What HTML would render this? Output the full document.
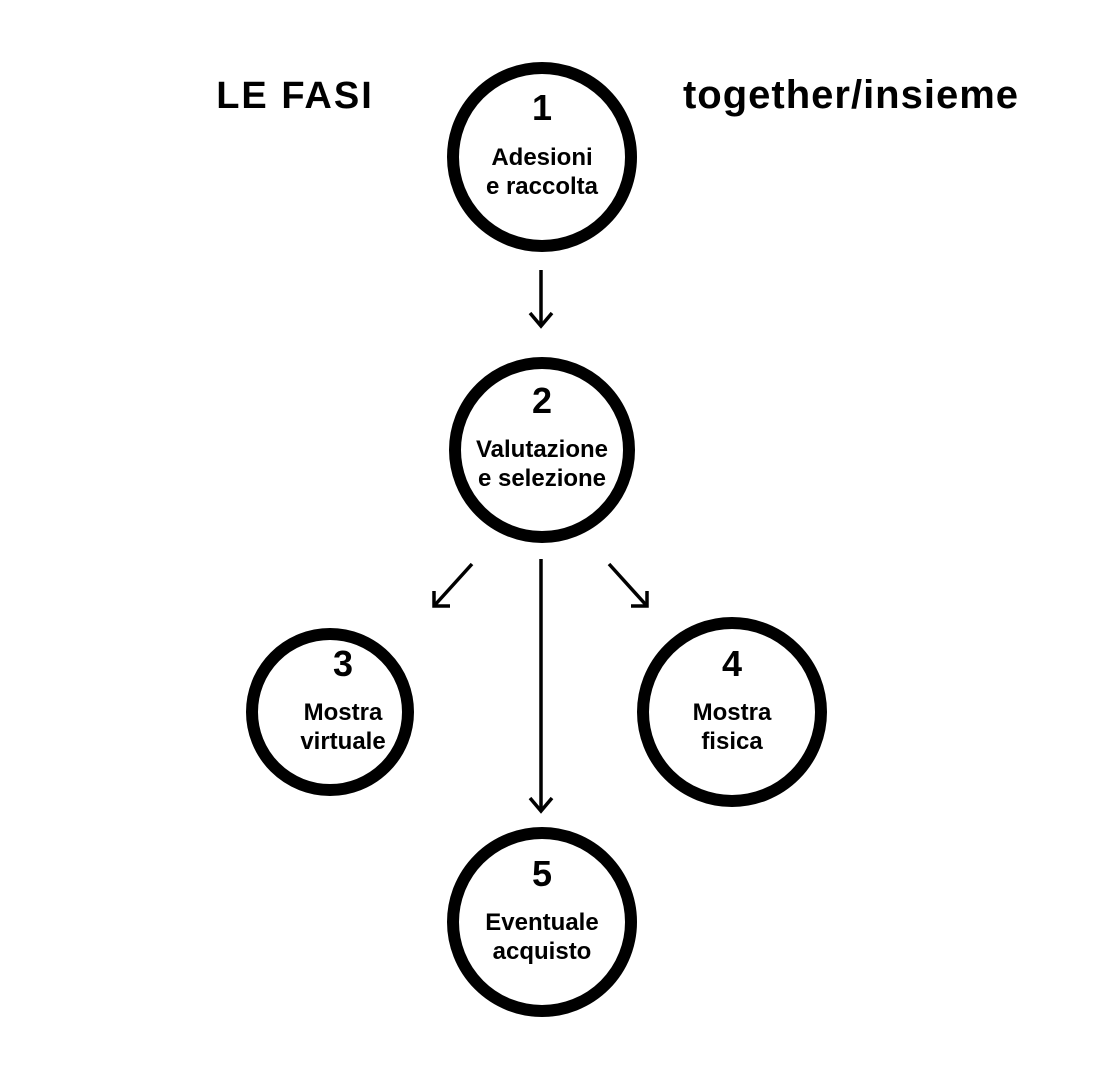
<!DOCTYPE html>
<html><head><style>body{margin:0;background:#fff}svg{display:block}</style></head><body>
<svg width="1097" height="1080" viewBox="0 0 1097 1080" xmlns="http://www.w3.org/2000/svg" font-family="Liberation Sans, sans-serif" font-weight="bold">
<g fill="none" stroke="#000" stroke-width="12">
<circle cx="542" cy="157" r="89"/>
<circle cx="542" cy="450" r="87"/>
<circle cx="330" cy="712" r="78"/>
<circle cx="732" cy="712" r="89"/>
<circle cx="542" cy="922" r="89"/>
</g>
<g stroke="#000" stroke-width="3.5" fill="none" stroke-linejoin="miter">
<line x1="541" y1="270" x2="541" y2="325"/>
<polyline points="530,313 541,326 552,313"/>
<line x1="541" y1="559" x2="541" y2="810"/>
<polyline points="530,798 541,811 552,798"/>
<line x1="472" y1="564" x2="434" y2="606"/>
<polyline points="434,591 434,606 450,606"/>
<line x1="609" y1="564" x2="647" y2="606"/>
<polyline points="647,591 647,606 631,606"/>
</g>
<g fill="#000" text-anchor="middle">
<text x="295" y="108" font-size="38" letter-spacing="2">LE FASI</text>
<text x="851" y="108" font-size="40" letter-spacing="1">together/insieme</text>
<text x="542" y="120" font-size="36">1</text>
<text x="542" y="165" font-size="24">Adesioni</text>
<text x="542" y="194" font-size="24">e raccolta</text>
<text x="542" y="413" font-size="36">2</text>
<text x="542" y="457" font-size="24">Valutazione</text>
<text x="542" y="486" font-size="24">e selezione</text>
<text x="343" y="676" font-size="36">3</text>
<text x="343" y="720" font-size="24">Mostra</text>
<text x="343" y="749" font-size="24">virtuale</text>
<text x="732" y="676" font-size="36">4</text>
<text x="732" y="720" font-size="24">Mostra</text>
<text x="732" y="749" font-size="24">fisica</text>
<text x="542" y="886" font-size="36">5</text>
<text x="542" y="930" font-size="24">Eventuale</text>
<text x="542" y="959" font-size="24">acquisto</text>
</g>
</svg>
</body></html>
